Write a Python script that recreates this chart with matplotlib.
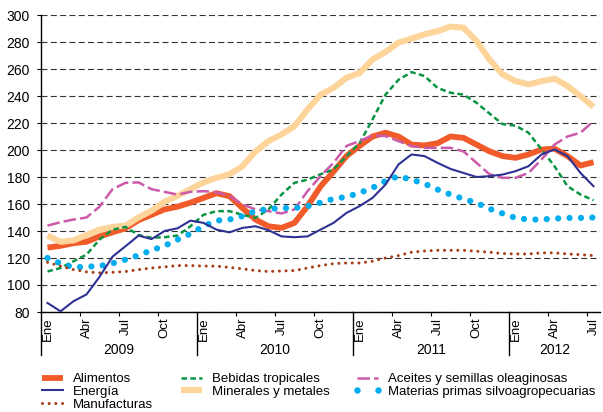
import numpy as np
import matplotlib
matplotlib.use("Agg")
import matplotlib.pyplot as plt
from matplotlib.lines import Line2D

plt.rcParams["font.family"] = ["Liberation Sans", "DejaVu Sans"]
plt.rcParams["lines.scale_dashes"] = False

# monthly index values, Jan 2009 .. Jul 2012 (43 months)
alimentos = [127.7, 129, 131, 132, 136, 139, 142, 148, 152, 156, 158, 161,
             164.5, 168, 165.8, 157, 148.5, 143.5, 142.3, 146, 158.4, 173, 184, 195.5,
             203, 210, 212.8, 210, 204, 203.4, 205, 210, 209, 204, 199, 195.5,
             194.2, 196.7, 200.4, 201, 195.5, 188.5, 191]
minerales = [136.6, 132, 133, 137, 141, 143, 144, 150, 155, 161.6, 166, 171,
             176, 179.4, 182, 188, 199, 206.6, 211.5, 217.7, 230, 241, 246, 253.5,
             257, 267, 272.6, 279.5, 282.5, 285.7, 288, 291.4, 290.6, 280.7, 267, 256,
             251, 248.6, 251, 252.8, 247.4, 240, 232]
aceites = [144, 146.5, 148.5, 150, 158, 171, 175.7, 176, 171, 169, 167, 169,
           169.5, 168.8, 166, 159.6, 156, 154.7, 153, 156, 169.5, 180.6, 190.5, 203,
           206.6, 210.8, 210.3, 206.6, 203, 201.6, 201.6, 201.6, 199, 190.5, 182, 179.4,
           179.4, 183, 193, 204, 210, 212.8, 221.4]
bebidas = [110, 112.6, 117.6, 122.5, 133.6, 141, 143, 137, 135, 135.4, 136.6, 143.5,
           152, 154.7, 154.7, 152, 149.7, 156, 167, 175.7, 178, 182, 185.6, 195.5,
           205, 222.6, 241, 252, 257.7, 254.8, 246, 242.4, 241, 235, 227, 219.2,
           218, 212.8, 200.4, 188, 173.2, 167, 162.8]
energia = [86.7, 80.5, 88, 93, 106, 121, 128.7, 136.6, 134, 140, 142, 147.7,
           146, 141, 139, 142.3, 143.5, 140.6, 136, 135.4, 136, 141, 146, 153.4,
           158.4, 164.5, 174.4, 189.3, 196.7, 195.5, 190.5, 186, 183, 180, 180.6, 181.8,
           184.3, 188, 196.7, 200.4, 195.5, 183, 173.2]
materias = [120, 116, 113, 113.6, 114, 116, 118.8, 122, 125.7, 129, 133.6, 138,
            143.5, 147.7, 148.5, 151, 154.7, 156.4, 157, 157, 158.4, 161, 163.8, 165.3,
            168.2, 172, 177, 180.6, 178, 175, 170.7, 167, 163.8, 160.8, 156.5, 153,
            149.7, 148.5, 148.5, 149.2, 149.7, 149.7, 150]
manufacturas = [116.8, 114, 111.4, 109.7, 109, 109.4, 110, 111.4, 112.6, 113.4, 114.4, 114.4,
                114, 114, 113, 112, 110.7, 110, 110.4, 110.7, 112.6, 114.4, 115.8, 116.3,
                116.3, 117.6, 120, 121.8, 124.3, 125.2, 125.7, 125.7, 125.7, 125, 124.3, 123.3,
                123, 123, 123.8, 123.8, 123, 122.5, 121.8]

month_names = ["Ene", "Abr", "Jul", "Oct"]
years = ["2009", "2010", "2011", "2012"]
yticks = list(range(80, 301, 20))

x = np.arange(len(alimentos))

fig = plt.figure(figsize=(6.03, 4.12), dpi=100)
ax = fig.add_axes([41 / 603, 1 - 312 / 412, 559 / 603, 297 / 412])

for yv in yticks:
    ax.axhline(yv, color="#333333", lw=0.8, dashes=(4.3, 2.4), zorder=0)

l_ali, = ax.plot(x, alimentos, color="#F15A29", lw=4.2, solid_capstyle="butt", label="Alimentos", zorder=2)
l_min, = ax.plot(x, minerales, color="#FDD59B", lw=4.4, solid_capstyle="butt", label="Minerales y metales", zorder=3)
l_beb, = ax.plot(x, bebidas, color="#0A9444", lw=1.8, dashes=(4.0, 2.4), label="Bebidas tropicales", zorder=4)
l_ace, = ax.plot(x, aceites, color="#CC5AAA", lw=1.8, dashes=(9.0, 3.0), label="Aceites y semillas oleaginosas", zorder=4)
l_mat, = ax.plot(x, materias, color="#00AEEF", lw=4.5, dashes=(0.01, 8.2), dash_capstyle="round",
                 label="Materias primas silvoagropecuarias", zorder=5)
l_man, = ax.plot(x, manufacturas, color="#A63F1A", lw=2.2, dashes=(0.01, 4.8), dash_capstyle="round",
                 label="Manufacturas", zorder=5)
l_ene, = ax.plot(x, energia, color="#2E3192", lw=1.5, label="Energía", zorder=6)

ax.set_xlim(-0.5, 42.5)
ax.set_ylim(80, 300)
ax.set_yticks(yticks)
ax.tick_params(axis="y", length=3, width=0.8, pad=5, labelsize=10)

mpos = list(range(0, 43, 3))
ax.set_xticks(mpos)
ax.set_xticklabels([month_names[(m // 3) % 4] for m in mpos], rotation=90, fontsize=9.5)
ax.tick_params(axis="x", which="major", length=0, pad=4)
ax.set_xticks([q - 0.5 for q in range(3, 43, 3) if q % 12 != 0], minor=True)
ax.tick_params(axis="x", which="minor", length=3, width=0.8)

for s in ["top", "right"]:
    ax.spines[s].set_visible(False)
ax.spines["left"].set_linewidth(1.0)
ax.spines["bottom"].set_linewidth(1.0)

trans = ax.get_xaxis_transform()
for yb in range(4):
    xb = -0.5 + 12 * yb
    ax.plot([xb, xb], [0, -43 / 297], color="black", lw=1.0, transform=trans, clip_on=False)
year_centers = [5.5, 17.5, 29.5, 39.0]
for yc, lab in zip(year_centers, years):
    ax.text(yc, -38 / 297, lab, transform=trans, ha="center", va="center", fontsize=10)

# legend proxy for the big dots so the key shows two round dots
mat_key = Line2D([], [], ls="none", marker="o", markersize=4.6, markeredgewidth=0,
                 color="#00AEEF", label=l_mat.get_label())
handles = [l_ali, l_ene, l_man, l_beb, l_min, l_ace, mat_key]
fig.legend(handles=handles, labels=[h.get_label() for h in handles], ncol=3,
           loc="upper left", bbox_to_anchor=(38 / 603, 1 - 373 / 412), frameon=False,
           fontsize=9.5, borderpad=0, borderaxespad=0, handlelength=2.2, handletextpad=0.45,
           columnspacing=1.8, labelspacing=0.03, numpoints=2)

fig.savefig("out.png", dpi=100)
